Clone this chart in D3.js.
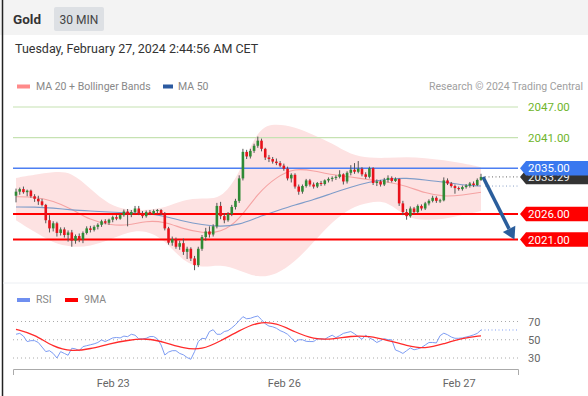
<!DOCTYPE html>
<html>
<head>
<meta charset="utf-8">
<script src="https://cdn.jsdelivr.net/npm/d3@7"></script>
<style>
  body { margin: 0; background: #fff; }
  svg { display: block; font-family: Roboto, "Liberation Sans", Arial, sans-serif; }
</style>
</head>
<body>
<script>
// 30 min candles, Feb 22 evening -> Feb 27 02:30
var opens = [2029.6,2030.4,2030.9,2030.3,2030.6,2029.5,2029.0,2028.5,2027.8,2024.8,
  2023.2,2024.2,2022.3,2023.0,2021.9,2022.4,2020.8,2021.7,2021.0,2022.3,
  2023.2,2022.9,2023.5,2023.9,2024.6,2024.3,2024.9,2025.4,2025.1,2025.8,
  2026.5,2025.9,2026.4,2027.1,2026.2,2025.6,2026.4,2026.1,2026.6,2026.8,
  2026.2,2023.2,2020.4,2021.1,2019.6,2020.3,2018.6,2019.2,2017.3,2016.0,
  2019.2,2021.5,2022.6,2022.0,2023.6,2027.6,2025.6,2024.8,2026.0,2027.4,
  2028.6,2033.0,2038.2,2037.3,2038.4,2039.4,2040.4,2038.8,2037.1,2036.8,
  2036.3,2036.0,2035.5,2034.9,2033.0,2033.7,2031.4,2030.4,2031.5,2032.6,
  2031.8,2031.4,2032.1,2031.9,2032.6,2032.9,2033.1,2033.3,2033.8,2032.4,
  2034.1,2034.7,2034.3,2034.9,2033.8,2033.3,2035.0,2032.1,2032.4,2031.8,
  2032.7,2033.1,2032.5,2032.9,2028.1,2026.4,2025.6,2027.1,2026.4,2027.6,
  2027.1,2028.1,2028.6,2029.2,2028.6,2028.7,2032.6,2032.0,2031.5,2031.1,
  2030.9,2031.3,2031.6,2032.0,2031.7,2032.7];
var highs = [2031.0,2031.2,2031.4,2030.8,2030.8,2029.9,2029.6,2029.0,2028.0,2025.8,
  2024.6,2024.5,2023.4,2023.4,2022.8,2022.9,2022.0,2022.2,2022.6,2023.6,
  2023.7,2023.8,2024.2,2024.9,2025.0,2025.1,2025.7,2025.8,2026.0,2026.9,
  2027.0,2026.8,2027.6,2027.6,2026.6,2026.7,2026.8,2026.9,2027.0,2027.0,
  2026.4,2023.5,2021.6,2021.4,2020.8,2021.2,2019.6,2019.5,2017.8,2019.6,
  2021.9,2023.3,2023.6,2024.0,2028.2,2028.4,2026.2,2026.4,2027.8,2029.0,
  2033.6,2038.8,2038.6,2038.8,2039.8,2041.2,2040.8,2039.0,2037.6,2037.2,
  2036.9,2036.4,2035.9,2035.3,2034.0,2034.0,2031.8,2031.8,2032.9,2032.9,
  2032.2,2032.3,2032.5,2032.8,2033.2,2033.4,2033.6,2034.6,2034.0,2034.4,
  2035.6,2036.0,2036.4,2035.2,2034.2,2035.3,2035.2,2032.8,2032.7,2033.1,
  2033.6,2033.4,2033.2,2033.0,2028.6,2027.0,2027.5,2027.4,2027.9,2027.9,
  2028.4,2028.9,2029.6,2029.5,2029.0,2033.2,2033.0,2032.3,2031.8,2031.4,
  2031.6,2031.9,2032.3,2032.4,2033.0,2033.9];
var lows = [2028.3,2029.8,2030.0,2029.5,2029.2,2028.4,2027.8,2027.5,2024.2,2022.4,
  2022.6,2021.6,2021.8,2021.4,2020.6,2019.6,2020.2,2020.5,2020.3,2022.0,
  2022.4,2022.6,2023.0,2023.5,2024.0,2023.9,2024.4,2024.8,2024.9,2025.5,
  2023.6,2025.4,2026.0,2025.8,2025.2,2025.3,2025.8,2025.9,2026.1,2025.8,
  2022.8,2020.0,2019.8,2019.2,2019.0,2018.0,2017.2,2016.8,2015.0,2015.6,
  2018.8,2020.8,2021.4,2021.6,2023.2,2025.0,2024.2,2024.5,2025.6,2026.9,
  2028.2,2032.6,2036.8,2036.9,2038.0,2039.0,2038.3,2036.6,2036.2,2035.9,
  2035.6,2035.2,2034.5,2032.6,2032.2,2031.0,2029.8,2030.0,2031.2,2031.4,
  2031.0,2031.1,2031.5,2031.6,2032.2,2032.4,2032.7,2033.0,2031.8,2032.0,
  2033.6,2033.9,2034.0,2033.4,2032.9,2033.0,2031.7,2031.5,2031.4,2031.5,
  2032.2,2032.2,2032.3,2027.6,2025.8,2024.9,2025.3,2026.0,2026.1,2026.7,
  2026.8,2027.7,2028.3,2028.2,2028.2,2028.5,2031.7,2031.2,2030.0,2030.6,
  2030.6,2031.0,2031.2,2031.3,2031.5,2032.5];
var closes = [2030.4,2030.9,2030.3,2030.6,2029.5,2029.0,2028.5,2027.8,2024.8,2023.2,
  2024.2,2022.3,2023.0,2021.9,2022.4,2020.8,2021.7,2021.0,2022.3,2023.2,
  2022.9,2023.5,2023.9,2024.6,2024.3,2024.9,2025.4,2025.1,2025.8,2026.5,
  2025.9,2026.4,2027.1,2026.2,2025.6,2026.4,2026.1,2026.6,2026.8,2026.2,
  2023.2,2020.4,2021.1,2019.6,2020.3,2018.6,2019.2,2017.3,2016.0,2019.2,
  2021.5,2022.6,2022.0,2023.6,2027.6,2025.6,2024.8,2026.0,2027.4,2028.6,
  2033.0,2038.2,2037.3,2038.4,2039.4,2040.4,2038.8,2037.1,2036.8,2036.3,
  2036.0,2035.5,2034.9,2033.0,2033.7,2031.4,2030.4,2031.5,2032.6,2031.8,
  2031.4,2032.1,2031.9,2032.6,2032.9,2033.1,2033.3,2033.8,2032.4,2034.1,
  2034.7,2034.3,2034.9,2033.8,2033.3,2035.0,2032.1,2032.4,2031.8,2032.7,
  2033.1,2032.5,2032.9,2028.1,2026.4,2025.6,2027.1,2026.4,2027.6,2027.1,
  2028.1,2028.6,2029.2,2028.6,2028.7,2032.6,2032.0,2031.5,2031.1,2030.9,
  2031.3,2031.6,2032.0,2031.7,2032.7,2033.29];

// indicators read every 5 candles
var sampleIdx = [0,5,10,15,20,25,30,35,40,45,50,55,60,65,70,75,80,85,90,95,100,105,110,115,120,125];
var bbUpper = [2033.1,2033.7,2034.3,2034.3,2030.9,2027.8,2026.8,2026.8,2027.2,2028.8,2029.2,2028.8,2033.7,
  2043.1,2043.7,2043.1,2041.5,2039.9,2037.6,2037.0,2037.0,2037.2,2037.0,2036.6,2036.0,2035.2];
var bbLower = [2024.8,2022.5,2020.3,2019.5,2019.7,2020.9,2022.5,2022.9,2020.9,2016.6,2015.4,2016.2,2015.0,
  2013.5,2014.1,2016.6,2020.5,2024.5,2027.3,2028.4,2028.6,2025.2,2024.8,2025.0,2025.8,2026.6];
var ma20 = [2029.4,2029.4,2028.6,2027.0,2024.8,2023.9,2023.7,2024.7,2024.5,2023.1,2022.3,2022.3,2024.8,
  2030.1,2033.3,2035.0,2034.5,2033.7,2033.3,2032.7,2032.3,2031.5,2030.1,2029.4,2029.7,2030.3];
var ma50 = [2027.4,2027.4,2027.2,2026.8,2026.6,2026.4,2026.2,2026.2,2025.6,2024.6,2023.9,2023.5,2023.9,
  2025.4,2026.6,2027.8,2028.8,2030.1,2031.3,2032.3,2032.9,2033.1,2032.7,2032.3,2031.7,2031.5];
var rsiMa = [61.5,56,42,37,40,45.5,49.5,51.6,47.3,40.4,38.9,48.7,60,69.6,68.5,58.4,50.6,50.4,54.2,54.2,
  49.3,43.6,39.8,45.6,51.7,54.3];

// RSI per candle
var rsi = [56,57,54,48,49,49,47,42,37,38,35,30,37,35,33,40.7,40,38,42.5,43.5,
  44.5,45.5,47,49.8,48,50,52,52.5,52,54,53.4,56,55,51,51,51.6,53.5,53.5,51,44.3,
  33.3,36.5,38,38,35,33.5,30.5,28.6,37,48,51.6,51,59,61,56,56,59,60,63,66.5,
  71,75.3,73,73.5,75,76,72,67.5,65,64.2,62.6,60,58.3,56,52,47.5,50,50,48.3,48,
  48,51,51,50.5,53,55,52.3,54.5,57,58,59,56.5,53.4,50.5,55,52,50,47,49,51.2,
  50,50,38.8,37.2,35,38,41,39,40,41.5,44.2,47,47,46.5,54.5,57.2,55.5,53,51.6,51.6,
  52,53,54,55.3,57,60.7];

var resistances = [2047, 2041],
    pivot = 2035,
    supports = [2026, 2021],
    lastPrice = 2033.29;

var dateTicks = [26, 72, 119],
    dateLabels = ["Feb 23", "Feb 26", "Feb 27"],
    rsiTicks = [70, 50, 30];

var width = 588, height = 396,
    lineLeft = 13, lineRight = 518,
    n = closes.length;

var svg = d3.select("body").append("svg")
    .attr("width", width)
    .attr("height", height);

var x = d3.scaleLinear().domain([0, n - 1]).range([16, 481]);
var y = d3.scaleLinear().domain([2047, 2021]).range([107, 239.6]);
var yRsi = d3.scaleLinear().domain([70, 30]).range([321.5, 358]);

// header band
svg.append("rect")
    .attr("width", width).attr("height", 35)
    .attr("fill", "#f3f3f3");
svg.append("text")
    .attr("x", 13).attr("y", 24)
    .attr("font-size", "13.5px").attr("font-weight", "bold").attr("fill", "#333")
    .text("Gold");
svg.append("rect")
    .attr("x", 54).attr("y", 7).attr("width", 50).attr("height", 24).attr("rx", 2)
    .attr("fill", "#dde0e4");
svg.append("text")
    .attr("x", 79).attr("y", 23.5).attr("text-anchor", "middle")
    .attr("font-size", "12px").attr("fill", "#444")
    .text("30 MIN");
svg.append("text")
    .attr("x", 15).attr("y", 53)
    .attr("font-size", "12.5px").attr("fill", "#333")
    .text("Tuesday, February 27, 2024 2:44:56 AM CET");

// left border
svg.append("line")
    .attr("x1", 2.5).attr("x2", 2.5).attr("y1", 0).attr("y2", height)
    .attr("stroke", "#222").attr("stroke-width", 1.5);

// legend
svg.append("rect").attr("x", 17).attr("y", 84.5).attr("width", 13).attr("height", 4).attr("fill", "#ff8a8a");
svg.append("text").attr("x", 36).attr("y", 90).attr("font-size", "10.5px").attr("fill", "#888")
    .text("MA 20 + Bollinger Bands");
svg.append("rect").attr("x", 163).attr("y", 84.5).attr("width", 10).attr("height", 4).attr("fill", "#2c5aa0");
svg.append("text").attr("x", 178).attr("y", 90).attr("font-size", "10.5px").attr("fill", "#888")
    .text("MA 50");
svg.append("text").attr("x", 583).attr("y", 90).attr("text-anchor", "end")
    .attr("font-size", "10.5px").attr("fill", "#a0a0a0")
    .text("Research \u00a9 2024 Trading Central");

// bollinger band + moving averages
var samples = sampleIdx.map(function(d, i) {
    return {i: d, up: bbUpper[i], lo: bbLower[i], m20: ma20[i], m50: ma50[i], rm: rsiMa[i]};
});

svg.append("path")
    .datum(samples)
    .attr("fill", "#fde2e2")
    .attr("d", d3.area()
        .x(function(d) { return x(d.i); })
        .y0(function(d) { return y(d.lo); })
        .y1(function(d) { return y(d.up); })
        .curve(d3.curveBasis));

svg.append("path")
    .datum(samples)
    .attr("fill", "none").attr("stroke", "#f5a3a3").attr("stroke-width", 1.1)
    .attr("d", d3.line().x(function(d) { return x(d.i); }).y(function(d) { return y(d.m20); })
        .curve(d3.curveBasis));

svg.append("path")
    .datum(samples)
    .attr("fill", "none").attr("stroke", "#7e9cc9").attr("stroke-width", 1.1)
    .attr("d", d3.line().x(function(d) { return x(d.i); }).y(function(d) { return y(d.m50); })
        .curve(d3.curveBasis));

// level lines
resistances.forEach(function(p) {
    svg.append("line")
        .attr("x1", lineLeft).attr("x2", lineRight).attr("y1", y(p)).attr("y2", y(p))
        .attr("stroke", "#c6e2b2").attr("stroke-width", 1.2);
});
svg.append("line")
    .attr("x1", lineLeft).attr("x2", lineRight).attr("y1", y(pivot)).attr("y2", y(pivot))
    .attr("stroke", "#4d7ff2").attr("stroke-width", 1.4);
supports.forEach(function(p) {
    svg.append("line")
        .attr("x1", lineLeft).attr("x2", lineRight).attr("y1", y(p)).attr("y2", y(p))
        .attr("stroke", "#ff0000").attr("stroke-width", 2);
});

// candles
var candles = closes.map(function(c, i) {
    return {i: i, o: opens[i], h: highs[i], l: lows[i], c: c};
});
var bodyW = 2.6;

svg.append("g").selectAll("line")
    .data(candles).enter().append("line")
    .attr("x1", function(d) { return x(d.i); })
    .attr("x2", function(d) { return x(d.i); })
    .attr("y1", function(d) { return y(d.h); })
    .attr("y2", function(d) { return y(d.l); })
    .attr("stroke", "#555").attr("stroke-width", 1);

svg.append("g").selectAll("rect")
    .data(candles).enter().append("rect")
    .attr("x", function(d) { return x(d.i) - bodyW / 2; })
    .attr("y", function(d) { return y(Math.max(d.o, d.c)); })
    .attr("width", bodyW)
    .attr("height", function(d) { return Math.max(1, Math.abs(y(d.o) - y(d.c))); })
    .attr("fill", function(d) { return d.c >= d.o ? "#2f8a35" : "#e8121b"; });

// dotted guides to the price scale
var lastX = x(n - 1);
svg.append("line")
    .attr("x1", lastX + 4).attr("x2", lineRight).attr("y1", y(lastPrice)).attr("y2", y(lastPrice))
    .attr("stroke", "#666").attr("stroke-dasharray", "1,2.5");
svg.append("line")
    .attr("x1", lastX + 4).attr("x2", lineRight)
    .attr("y1", y(ma50[ma50.length - 1])).attr("y2", y(ma50[ma50.length - 1]))
    .attr("stroke", "#8aa2c8").attr("stroke-dasharray", "1,2.5");

// forecast arrow
var ax0 = lastX + 2, ay0 = y(lastPrice),
    ax1 = x(n - 1 + 9), ay1 = y(supports[1]);
var ang = Math.atan2(ay1 - ay0, ax1 - ax0),
    headL = 12, headW = 7;
var bx = ax1 - headL * Math.cos(ang), by = ay1 - headL * Math.sin(ang);
svg.append("line")
    .attr("x1", ax0).attr("y1", ay0).attr("x2", bx).attr("y2", by)
    .attr("stroke", "#2b5e9c").attr("stroke-width", 3.5);
svg.append("polygon")
    .attr("points", [
        [ax1, ay1],
        [bx + headW * Math.sin(ang), by - headW * Math.cos(ang)],
        [bx - headW * Math.sin(ang), by + headW * Math.cos(ang)]
    ].join(" "))
    .attr("fill", "#2b5e9c");

// price tags
function tag(price, fill, textFill) {
    var cy = y(price), h = 14.5, x0 = 520;
    svg.append("polygon")
        .attr("points", [[x0, cy], [x0 + 6, cy - h / 2], [width, cy - h / 2],
                         [width, cy + h / 2], [x0 + 6, cy + h / 2]].join(" "))
        .attr("fill", fill);
    svg.append("text")
        .attr("x", 528).attr("y", cy + 4)
        .attr("font-size", "11.5px").attr("fill", textFill)
        .text(price.toFixed(2));
}
resistances.forEach(function(p) {
    svg.append("text")
        .attr("x", 528).attr("y", y(p) + 4)
        .attr("font-size", "11.5px").attr("fill", "#6fb52c")
        .text(p.toFixed(2));
});
tag(lastPrice, "#333", "#eee");
tag(pivot, "#3a78ef", "#fff");
supports.forEach(function(p) { tag(p, "#ff0000", "#fff"); });

// RSI panel
svg.append("line")
    .attr("x1", 3).attr("x2", width).attr("y1", 283).attr("y2", 283)
    .attr("stroke", "#eceff3");
svg.append("rect").attr("x", 17).attr("y", 298).attr("width", 13).attr("height", 4).attr("fill", "#6f8ff0");
svg.append("text").attr("x", 36).attr("y", 303).attr("font-size", "10.5px").attr("fill", "#888").text("RSI");
svg.append("rect").attr("x", 65).attr("y", 298).attr("width", 13).attr("height", 4).attr("fill", "#ff0000");
svg.append("text").attr("x", 84).attr("y", 303).attr("font-size", "10.5px").attr("fill", "#888").text("9MA");

rsiTicks.forEach(function(v) {
    svg.append("line")
        .attr("x1", lineLeft).attr("x2", lineRight).attr("y1", yRsi(v)).attr("y2", yRsi(v))
        .attr("stroke", "#aaa").attr("stroke-dasharray", "1,3");
    svg.append("text")
        .attr("x", 528).attr("y", yRsi(v) + 4)
        .attr("font-size", "11px").attr("fill", "#666")
        .text(v);
});

svg.append("path")
    .datum(rsi)
    .attr("fill", "none").attr("stroke", "#7d9cf3").attr("stroke-width", 1)
    .attr("d", d3.line().x(function(d, i) { return x(i); }).y(function(d) { return yRsi(d); }));

svg.append("line")
    .attr("x1", lastX).attr("x2", lineRight)
    .attr("y1", yRsi(rsi[n - 1])).attr("y2", yRsi(rsi[n - 1]))
    .attr("stroke", "#7d9cf3").attr("stroke-dasharray", "1,2.5");

svg.append("path")
    .datum(samples)
    .attr("fill", "none").attr("stroke", "#ff2b2b").attr("stroke-width", 1.3)
    .attr("d", d3.line().x(function(d) { return x(d.i); }).y(function(d) { return yRsi(d.rm); })
        .curve(d3.curveBasis));

// time axis
var xa = d3.scaleLinear()
    .domain([x.invert(lineLeft), x.invert(lineRight)])
    .range([lineLeft, lineRight]);
var axis = svg.append("g")
    .attr("transform", "translate(0,369)")
    .call(d3.axisBottom(xa)
        .tickValues(dateTicks)
        .tickFormat(function(d, i) { return dateLabels[i]; })
        .tickSizeInner(0)
        .tickSizeOuter(6)
        .tickPadding(10));
axis.select(".domain").attr("stroke", "#aaa");
axis.selectAll("text")
    .attr("font-size", "11px")
    .attr("font-family", "Roboto, 'Liberation Sans', Arial, sans-serif")
    .attr("fill", "#666");
</script>
</body>
</html>
